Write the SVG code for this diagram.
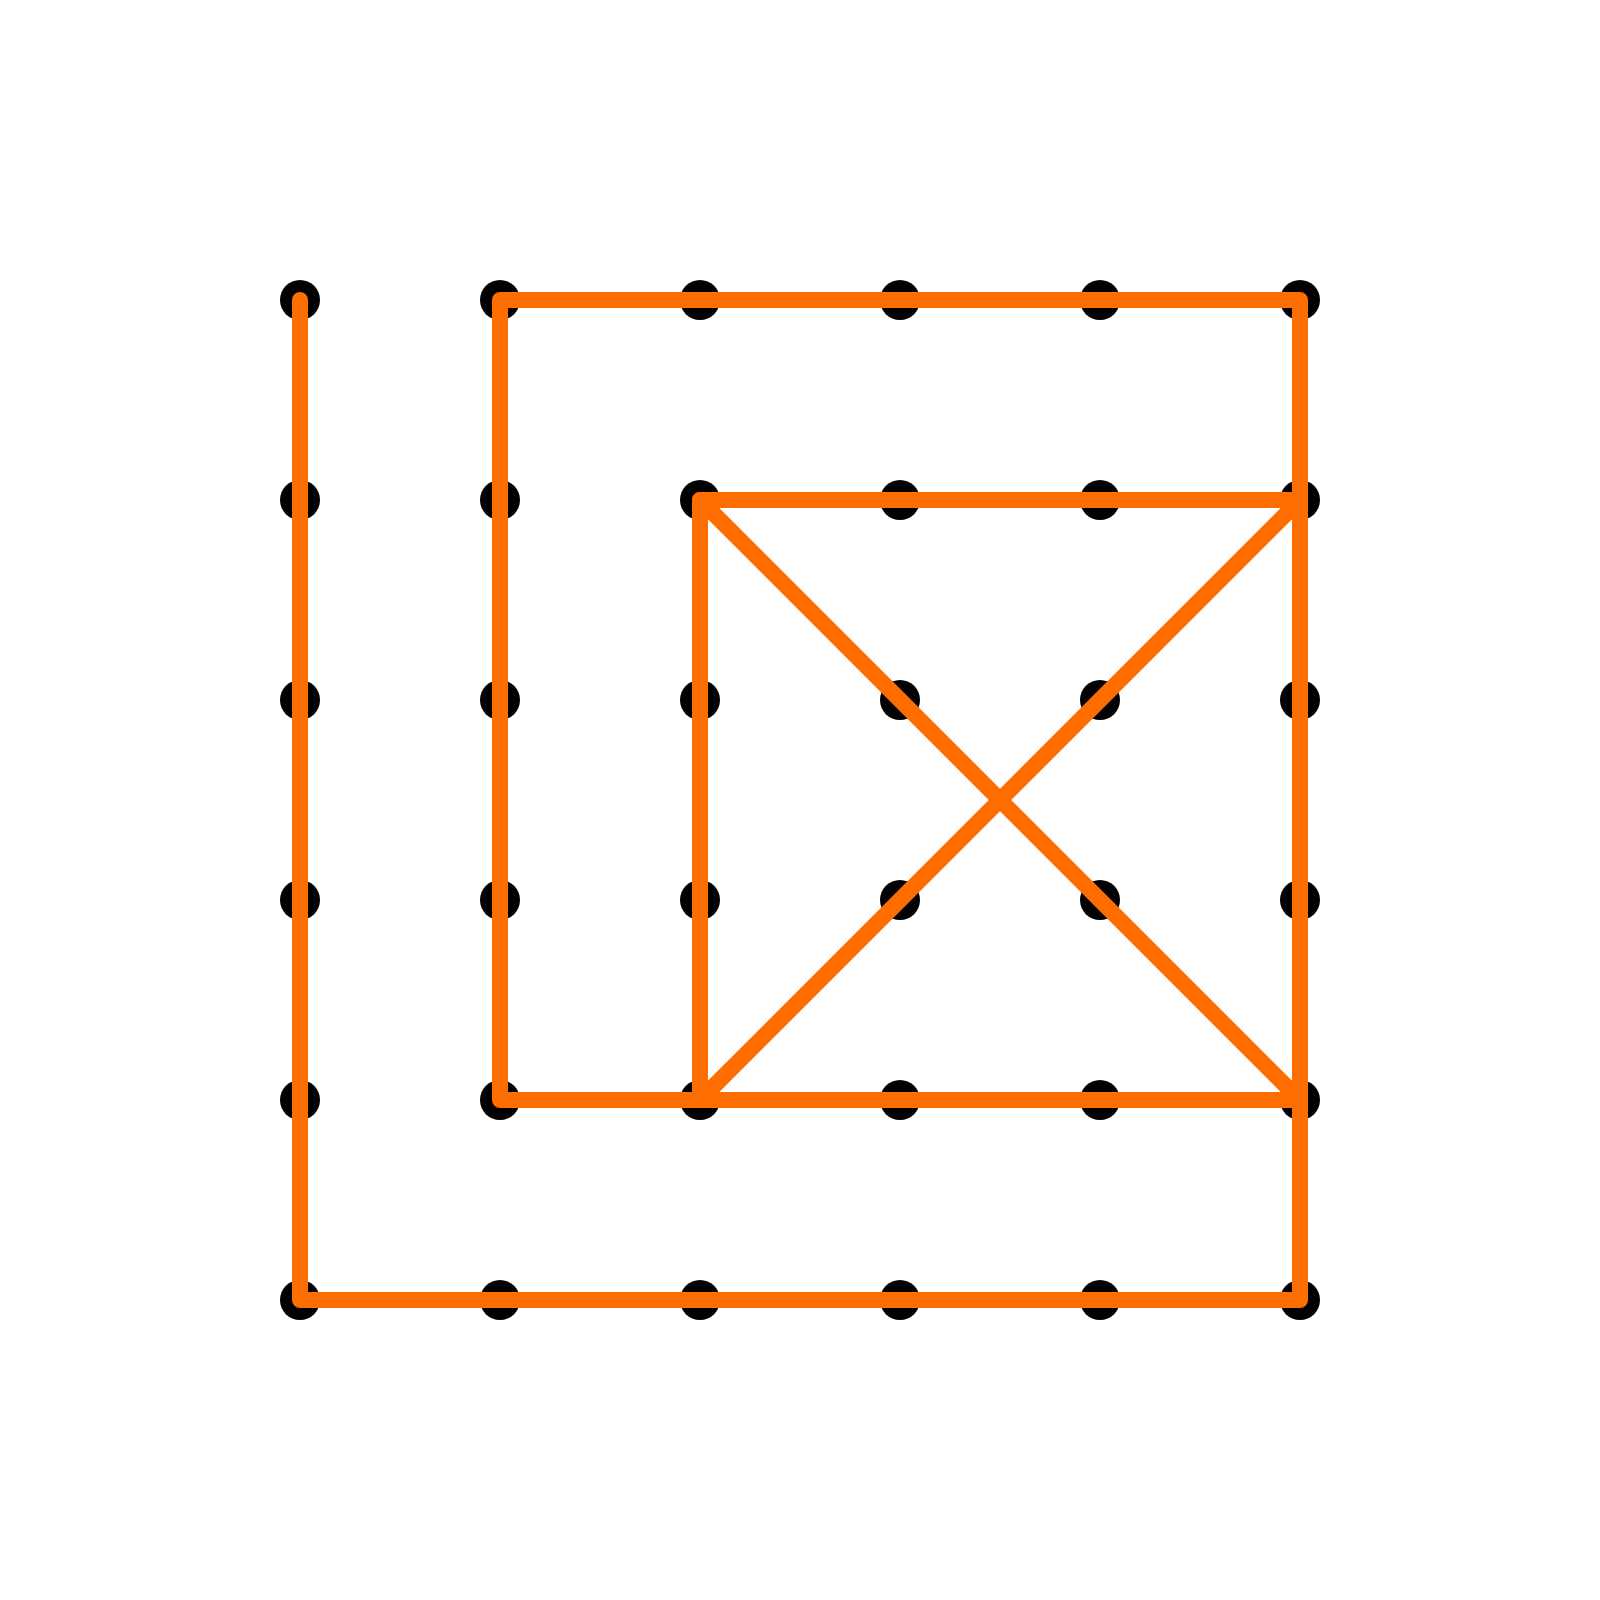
<svg xmlns="http://www.w3.org/2000/svg" width="1600" height="1600" viewBox="0 0 1600 1600">
<style>
.dot{fill:#000}
.band{fill:none;stroke:#FF6C00;stroke-width:16;stroke-linecap:round;stroke-linejoin:round}
</style>
<rect width="1600" height="1600" fill="#fff"/>
<g id="pegs">
<g id="p00"><circle class="dot" cx="300" cy="300" r="20"/></g>
<g id="p10"><circle class="dot" cx="500" cy="300" r="20"/></g>
<g id="p20"><circle class="dot" cx="700" cy="300" r="20"/></g>
<g id="p30"><circle class="dot" cx="900" cy="300" r="20"/></g>
<g id="p40"><circle class="dot" cx="1100" cy="300" r="20"/></g>
<g id="p50"><circle class="dot" cx="1300" cy="300" r="20"/></g>
<g id="p01"><circle class="dot" cx="300" cy="500" r="20"/></g>
<g id="p11"><circle class="dot" cx="500" cy="500" r="20"/></g>
<g id="p21"><circle class="dot" cx="700" cy="500" r="20"/></g>
<g id="p31"><circle class="dot" cx="900" cy="500" r="20"/></g>
<g id="p41"><circle class="dot" cx="1100" cy="500" r="20"/></g>
<g id="p51"><circle class="dot" cx="1300" cy="500" r="20"/></g>
<g id="p02"><circle class="dot" cx="300" cy="700" r="20"/></g>
<g id="p12"><circle class="dot" cx="500" cy="700" r="20"/></g>
<g id="p22"><circle class="dot" cx="700" cy="700" r="20"/></g>
<g id="p32"><circle class="dot" cx="900" cy="700" r="20"/></g>
<g id="p42"><circle class="dot" cx="1100" cy="700" r="20"/></g>
<g id="p52"><circle class="dot" cx="1300" cy="700" r="20"/></g>
<g id="p03"><circle class="dot" cx="300" cy="900" r="20"/></g>
<g id="p13"><circle class="dot" cx="500" cy="900" r="20"/></g>
<g id="p23"><circle class="dot" cx="700" cy="900" r="20"/></g>
<g id="p33"><circle class="dot" cx="900" cy="900" r="20"/></g>
<g id="p43"><circle class="dot" cx="1100" cy="900" r="20"/></g>
<g id="p53"><circle class="dot" cx="1300" cy="900" r="20"/></g>
<g id="p04"><circle class="dot" cx="300" cy="1100" r="20"/></g>
<g id="p14"><circle class="dot" cx="500" cy="1100" r="20"/></g>
<g id="p24"><circle class="dot" cx="700" cy="1100" r="20"/></g>
<g id="p34"><circle class="dot" cx="900" cy="1100" r="20"/></g>
<g id="p44"><circle class="dot" cx="1100" cy="1100" r="20"/></g>
<g id="p54"><circle class="dot" cx="1300" cy="1100" r="20"/></g>
<g id="p05"><circle class="dot" cx="300" cy="1300" r="20"/></g>
<g id="p15"><circle class="dot" cx="500" cy="1300" r="20"/></g>
<g id="p25"><circle class="dot" cx="700" cy="1300" r="20"/></g>
<g id="p35"><circle class="dot" cx="900" cy="1300" r="20"/></g>
<g id="p45"><circle class="dot" cx="1100" cy="1300" r="20"/></g>
<g id="p55"><circle class="dot" cx="1300" cy="1300" r="20"/></g>
</g>
<g id="connectors">
<polyline class="band" points="300,300 300,1300 1300,1300 1300,300 500,300 500,1100 1300,1100"/>
<polygon class="band" points="700,500 1300,500 1300,1100 700,1100"/>
<line class="band" x1="700" y1="500" x2="1300" y2="1100"/>
<line class="band" x1="1300" y1="500" x2="700" y2="1100"/>
</g>
</svg>
